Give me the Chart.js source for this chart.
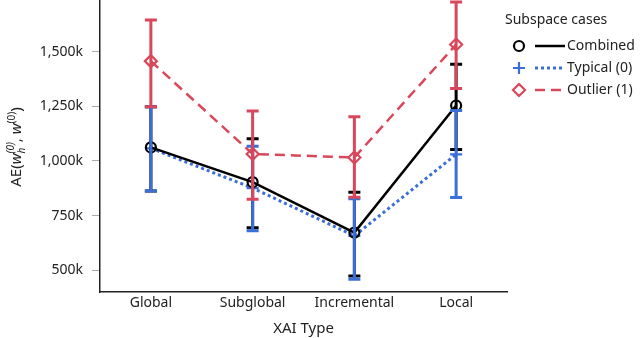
<!DOCTYPE html>
<html>
<head>
<meta charset="utf-8">
<script src="https://cdn.jsdelivr.net/npm/chart.js@4/dist/chart.umd.min.js"></script>
<style>
  body { margin: 0; background: #fff; }
  #wrap { width: 640px; height: 338px; }
</style>
</head>
<body>
<div id="wrap"><canvas id="chart"></canvas></div>
<script>
// values are in thousands
const categories = ["Global", "Subglobal", "Incremental", "Local"];
const yTicks = [500, 750, 1000, 1250, 1500];

const combined = [1062, 903, 672, 1254];
const combinedLow = [863, 694, 473, 1053];
const combinedHigh = [1248, 1102, 857, 1443];

const typical = [1058, 876, 657, 1030];
const typicalLow = [863, 681, 458, 833];
const typicalHigh = [1248, 1067, 827, 1231];

const outlier = [1457, 1032, 1016, 1533];
const outlierLow = [1248, 825, 834, 1332];
const outlierHigh = [1645, 1229, 1202, 1728];

const RED = "#d9475b";
const BLUE = "#3b6fd6";
const FONT = "'Noto Sans', 'Open Sans', sans-serif";

// error bars, drawn on top of the lines
const errorBars = {
    id: "errorBars",
    afterDatasetsDraw(chart) {
        const ctx = chart.ctx;
        const y = chart.scales.y;
        chart.data.datasets.forEach((ds, di) => {
            const meta = chart.getDatasetMeta(di);
            ctx.save();
            ctx.strokeStyle = ds.borderColor;
            ctx.lineWidth = 3;
            ctx.setLineDash([]);
            for (let i = 0; i < ds.data.length; i++) {
                const x = meta.data[i].x;
                const top = y.getPixelForValue(ds.errHigh[i]);
                const bot = y.getPixelForValue(ds.errLow[i]);
                ctx.beginPath();
                ctx.moveTo(x, top); ctx.lineTo(x, bot);
                ctx.moveTo(x - 6, top); ctx.lineTo(x + 6, top);
                ctx.moveTo(x - 6, bot); ctx.lineTo(x + 6, bot);
                ctx.stroke();
            }
            ctx.restore();
        });
    }
};

function drawMarker(ctx, style, x, y, color) {
    ctx.save();
    ctx.strokeStyle = color;
    ctx.lineWidth = 2.2;
    ctx.setLineDash([]);
    ctx.beginPath();
    if (style === "circle") {
        ctx.arc(x, y, 5, 0, Math.PI * 2);
    } else if (style === "cross") {
        ctx.moveTo(x - 6, y); ctx.lineTo(x + 6, y);
        ctx.moveTo(x, y - 6); ctx.lineTo(x, y + 6);
    } else {
        ctx.moveTo(x, y - 6); ctx.lineTo(x + 6, y);
        ctx.lineTo(x, y + 6); ctx.lineTo(x - 6, y); ctx.closePath();
    }
    ctx.stroke();
    ctx.restore();
}

// legend and y axis title
const extras = {
    id: "extras",
    afterDraw(chart) {
        const ctx = chart.ctx;
        ctx.save();
        ctx.fillStyle = "#222";
        ctx.textBaseline = "middle";
        ctx.font = "14px " + FONT;
        ctx.fillText("Subspace cases", 505, 20);
        const rows = [46, 68, 90];
        chart.data.datasets.forEach((ds, i) => {
            const yy = rows[i];
            drawMarker(ctx, ds.pointStyle, 519, yy, ds.borderColor);
            ctx.save();
            ctx.strokeStyle = ds.borderColor;
            ctx.lineWidth = ds.borderWidth;
            ctx.setLineDash(ds.borderDash || []);
            ctx.beginPath();
            ctx.moveTo(535, yy); ctx.lineTo(565, yy);
            ctx.stroke();
            ctx.restore();
            ctx.fillStyle = "#222";
            ctx.fillText(ds.label, 567, yy);
        });

        // rotated title AE(w_h^(0), w^(0))
        const parts = [
            { t: "AE(", f: "15px " + FONT, dy: 0 },
            { t: "w", f: "italic 15px " + FONT, dy: 0 },
            { t: "h", f: "italic 10px " + FONT, dy: 4, sup: "(0)" },
            { t: ", ", f: "15px " + FONT, dy: 0 },
            { t: "w", f: "italic 15px " + FONT, dy: 0 },
            { t: "(0)", f: "10px " + FONT, dy: -6 },
            { t: ")", f: "15px " + FONT, dy: 0 }
        ];
        let total = 0;
        parts.forEach(p => {
            ctx.font = p.f;
            let w = ctx.measureText(p.t).width;
            if (p.sup) w = Math.max(w, ctx.measureText(p.sup).width);
            p.w = w;
            total += w;
        });
        ctx.translate(16, 147);
        ctx.rotate(-Math.PI / 2);
        ctx.textBaseline = "alphabetic";
        let x = -total / 2;
        parts.forEach(p => {
            ctx.font = p.f;
            ctx.fillText(p.t, x, 5 + p.dy);
            if (p.sup) ctx.fillText(p.sup, x, 5 - 7);
            x += p.w;
        });
        ctx.restore();
    }
};

new Chart(document.getElementById("chart"), {
    type: "line",
    data: {
        labels: categories,
        datasets: [
            {
                label: "Combined", data: combined, errLow: combinedLow, errHigh: combinedHigh,
                borderColor: "#000", borderWidth: 2.5, pointStyle: "circle",
                pointRadius: 5, pointBorderWidth: 2.2, pointBackgroundColor: "rgba(0,0,0,0)"
            },
            {
                label: "Typical (0)", data: typical, errLow: typicalLow, errHigh: typicalHigh,
                borderColor: BLUE, borderWidth: 3, borderDash: [3, 3], pointStyle: "cross",
                pointRadius: 6, pointBorderWidth: 2.2, pointBackgroundColor: "rgba(0,0,0,0)"
            },
            {
                label: "Outlier (1)", data: outlier, errLow: outlierLow, errHigh: outlierHigh,
                borderColor: RED, borderWidth: 2.5, borderDash: [10, 6], pointStyle: "rectRot",
                pointRadius: 6, pointBorderWidth: 2.2, pointBackgroundColor: "rgba(0,0,0,0)"
            }
        ]
    },
    options: {
        responsive: true,
        maintainAspectRatio: false,
        animation: false,
        layout: { autoPadding: false, padding: { top: 0, right: 133, left: 0, bottom: 0 } },
        plugins: { legend: { display: false }, tooltip: { enabled: false } },
        scales: {
            x: {
                offset: true,
                grid: { display: false, drawTicks: false },
                border: { color: "#222", width: 1.5 },
                ticks: { color: "#222", font: { family: FONT, size: 14 }, padding: 3 },
                title: { display: true, text: "XAI Type", color: "#222", font: { family: FONT, size: 15 }, padding: { top: 2, bottom: 0 } },
                afterFit(s) { s.height = 46; }
            },
            y: {
                min: 400,
                max: 1737,
                grid: { drawOnChartArea: false, tickLength: 8, color: "#aaa" },
                border: { color: "#222", width: 1.5 },
                ticks: {
                    color: "#222", font: { family: FONT, size: 14 }, padding: 9,
                    callback: v => v.toLocaleString("en-US") + "k"
                },
                afterBuildTicks(s) { s.ticks = yTicks.map(v => ({ value: v })); },
                afterFit(s) { s.width = 100; s.paddingTop = 0; s.paddingBottom = 0; }
            }
        }
    },
    plugins: [errorBars, extras]
});
</script>
</body>
</html>
